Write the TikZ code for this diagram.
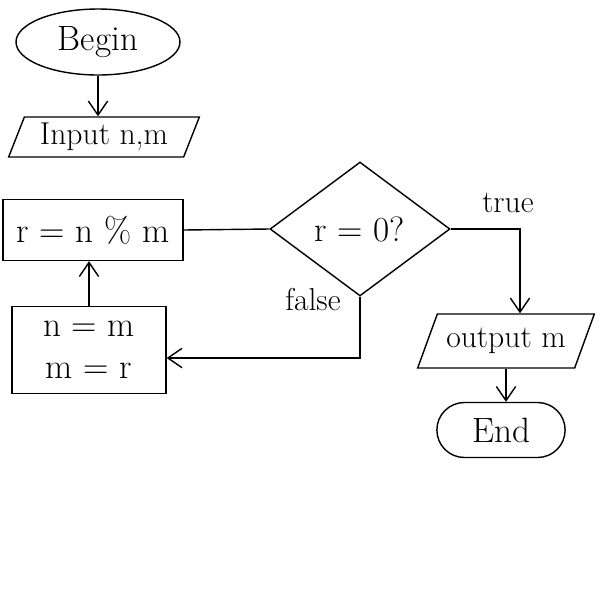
\documentclass[tikz,border=0pt]{standalone}
\usetikzlibrary{shapes.geometric,shapes.misc,arrows.meta}
\begin{document}
\begin{tikzpicture}[x=0.02cm,y=-0.02cm,line width=0.8pt,
  arr/.style={-{Straight Barb[length=8pt,width=11pt]}},
  box/.style={draw,rectangle,inner sep=2pt},
  para/.style={draw,trapezium,trapezium stretches=true,inner sep=2pt},
  big/.style={font=\fontsize{20}{24}\selectfont},
  mid/.style={font=\fontsize{18}{22}\selectfont},
  small/.style={font=\fontsize{18}{21}\selectfont}]
\fill[white] (0,0) rectangle (600,600);
\useasboundingbox (0,0) rectangle (600,600);
\node[draw,ellipse,minimum width=3.28cm,minimum height=1.32cm,big] (begin) at (98,42) {Begin};
\node[para,trapezium left angle=69,trapezium right angle=111,minimum width=3.84cm,minimum height=0.8cm,mid] (input) at (104,137) {Input n,m};
\node[box,minimum width=3.6cm,minimum height=1.22cm,big] (calc) at (93,230) {r = n \% m};
\node[box,minimum width=3.08cm,minimum height=1.74cm,align=center,big] (swap) at (89,350) {n = m\\m = r};
\node[draw,diamond,minimum width=3.6cm,minimum height=2.68cm,inner sep=0pt,big] (dec) at (360,229) {r = 0?};
\node[para,trapezium left angle=61,trapezium right angle=119,minimum width=3.54cm,minimum height=1.08cm,mid] (output) at (506,341) {output m};
\node[draw,rounded rectangle,minimum width=2.8cm,minimum height=1.1cm,big] (end) at (501,430) {End};
\node[small] (tlabel) at (508,203) {true};
\node[small] (flabel) at (313,300) {false};
\coordinate (tc) at (520,229);
\coordinate (fc) at (360,358);
\draw[arr] (begin.south) -- (begin.south |- input.north);
\draw[arr] (swap.north) -- (swap.north |- calc.south);
\draw (calc.east) -- (dec.west);
\draw[arr] (dec.east) -- (tc) -- (tc |- output.north);
\draw[arr] (output.south) -- (output.south |- end.north);
\draw[arr] (dec.south) -- (fc) -- (fc -| swap.east);
\end{tikzpicture}
\end{document}
